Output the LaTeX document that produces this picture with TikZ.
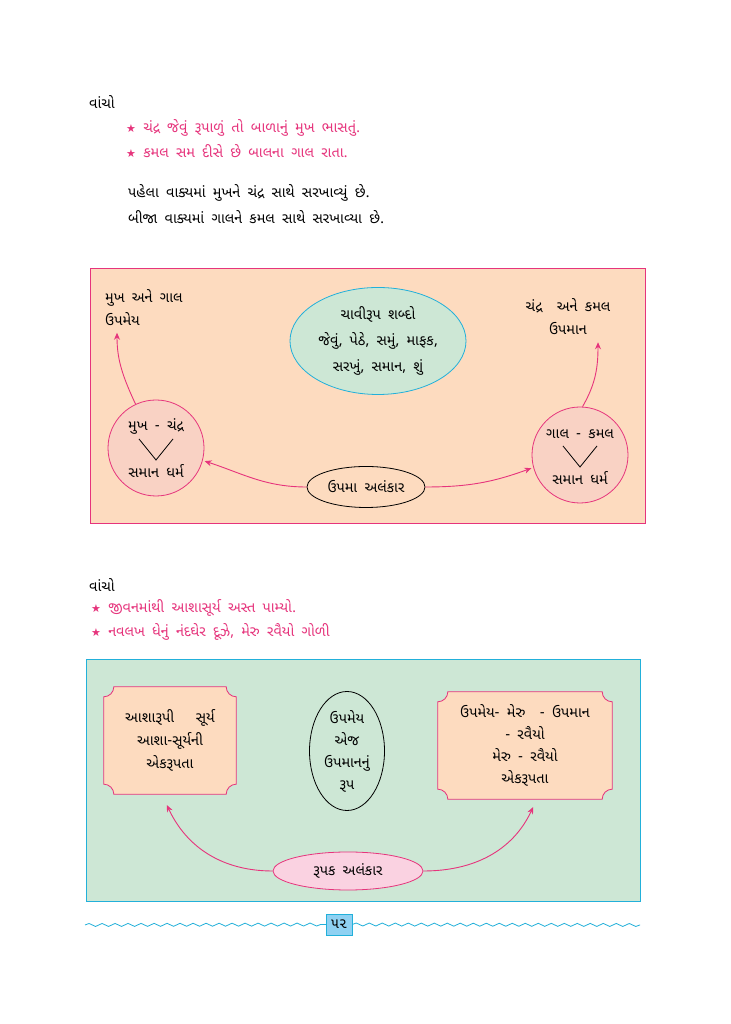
\documentclass[tikz,border=0pt]{standalone}
\usepackage{fontspec}
\newfontfamily\guj[Script=Gujarati]{Noto Sans Gujarati UI}
\newfontfamily\symfont{DejaVu Sans}
\usetikzlibrary{shapes.geometric,backgrounds,decorations.pathmorphing,arrows.meta}
\definecolor{pinkln}{HTML}{E6347C}
\definecolor{cyanln}{HTML}{22B0DA}
\definecolor{peach}{HTML}{FDDBBF}
\definecolor{greenbg}{HTML}{CDE7D5}
\definecolor{circfill}{HTML}{F9D2C4}
\definecolor{rupakfill}{HTML}{FAD2E1}
\definecolor{pgfill}{HTML}{8FD1F2}
\newcommand\pinkstar{{\symfont\fontsize{11}{11}\selectfont ★}}
\newcommand\gujsize[1]{\guj\fontsize{14.5}{#1}\selectfont\spaceskip=0.5em\relax}

\begin{document}
\begin{tikzpicture}[x=1pt, y=1pt, font=\gujsize{23},
    txt/.style={inner sep=1pt},
    pinktxt/.style={txt, text=pinkln, anchor=west},
    circ/.style={circle, draw=pinkln, fill=circfill, line width=0.8pt, minimum size=96pt, inner sep=0pt},
    oval/.style={ellipse, line width=0.8pt, inner sep=0pt, align=center},
    arr/.style={draw=pinkln, line width=0.9pt, ->, >={Stealth[length=7pt, width=6pt]}, shorten >=2pt},
    scoopbox/.style={inner sep=0pt, align=center},
    scoopline/.style={draw=pinkln, fill=peach, line width=0.8pt}]

    % top text
    \node[txt, anchor=west] (vancho1) at (88,922) {વાંચો};
    \node[pinktxt] (line1) at (125,896) {\pinkstar\ ચંદ્ર જેવું રૂપાળું તો બાળાનું મુખ ભાસતું.};
    \node[pinktxt] (line2) at (125,873) {\pinkstar\ કમલ સમ દીસે છે બાલના ગાલ રાતા.};
    \node[txt, anchor=west] (para1) at (127,831) {પહેલા વાક્યમાં મુખને ચંદ્ર સાથે સરખાવ્યું છે.};
    \node[txt, anchor=west] (para2) at (127,807) {બીજા વાક્યમાં ગાલને કમલ સાથે સરખાવ્યા છે.};

    % upama panel
    \node[txt, anchor=west, align=left] (upameya) at (104,716.5) {મુખ અને ગાલ\\ઉપમેય};
    \node[txt, align=center] (upaman) at (568,707) {ચંદ્ર \ અને કમલ\\ઉપમાન};
    \node[oval, draw=cyanln, fill=greenbg, minimum width=176pt, minimum height=107pt,
          font=\gujsize{26}] (keys) at (378,683)
          {ચાવીરૂપ શબ્દો\\જેવું, પેઠે, સમું, માફક,\\સરખું, સમાન, શું};
    \node[circ] (lc) at (156,576) {};
    \node[circ] (rc) at (580,569) {};
    \foreach \c/\a in {lc/મુખ - ચંદ્ર, rc/ગાલ - કમલ} {
        \node[txt] (\c top) at ([yshift=21pt]\c.center) {\a};
        \node[txt] (\c bot) at ([yshift=-23pt]\c.center) {સમાન ધર્મ};
        \draw[line width=0.8pt] ([shift={(-17,9)}]\c.center) -- ([shift={(0,-12)}]\c.center) -- ([shift={(17,9)}]\c.center);
    }
    \node[oval, draw=black, minimum width=118pt, minimum height=41pt] (upama) at (366,537) {ઉપમા અલંકાર};

    \draw[arr] (upama.west) to[out=180, in=-18] (lc.-15);
    \draw[arr] (upama.east) to[out=0, in=200] (rc.195);
    \draw[arr] (lc.115) to[out=115, in=-90] ([xshift=13pt, yshift=-4pt]upameya.south west);
    \draw[arr] (rc.87) to[out=60, in=-90] ([xshift=30pt, yshift=-4pt]upaman.south);

    % second reading
    \node[txt, anchor=west] (vancho2) at (88,439) {વાંચો};
    \node[pinktxt] (line3) at (90,416) {\pinkstar\ જીવનમાંથી આશાસૂર્ય અસ્ત પામ્યો.};
    \node[pinktxt] (line4) at (90,392) {\pinkstar\ નવલખ ધેનું નંદઘેર દૂઝે, મેરુ રવૈયો ગોળી};

    % rupak panel
    \node[scoopbox, minimum width=132pt, minimum height=107pt] (lbox) at (170,283.5)
          {આશારૂપી \quad સૂર્ય\\આશા-સૂર્યની\\એકરૂપતા};
    \node[scoopbox, minimum width=174pt, minimum height=107pt, font=\gujsize{22}] (rbox) at (525,278.5)
          {ઉપમેય- મેરુ \ - ઉપમાન\\- રવૈયો\\મેરુ - રવૈયો\\એકરૂપતા};
    \node[oval, draw=black, minimum width=75pt, minimum height=119pt,
          font=\gujsize{22}] (same) at (347,273) {ઉપમેય\\એજ\\ઉપમાનનું\\રૂપ};
    \node[oval, draw=pinkln, fill=rupakfill, minimum width=150pt, minimum height=38pt] (rupak) at (348,153) {રૂપક અલંકાર};

    \draw[arr] (rupak.west) to[out=180, in=-65] ([xshift=-4pt, yshift=-9pt]lbox.south);
    \draw[arr] (rupak.east) to[out=0, in=-115] ([xshift=9pt, yshift=-6pt]rbox.south);

    % page number
    \node[draw=cyanln, fill=pgfill, minimum width=26pt, minimum height=21pt, inner sep=0pt] (pgno) at (339,99.5) {૫૨};
    \coordinate (wl) at (85,99);
    \coordinate (wr) at (640,99);
    \draw[cyanln, line width=0.8pt, decorate, decoration={snake, segment length=13pt, amplitude=1.5pt}] (wl) -- (pgno.west);
    \draw[cyanln, line width=0.8pt, decorate, decoration={snake, segment length=13pt, amplitude=1.5pt}] (pgno.east) -- (wr);

    \begin{scope}[on background layer]
        \fill[white] (0,0) rectangle (730,1024);
        \draw[pinkln, fill=peach, line width=0.8pt] (90,501) rectangle (645,756);
        \draw[cyanln, fill=greenbg, line width=0.8pt] (86,123) rectangle (640,365);
        \foreach \b in {lbox,rbox} {
            \draw[scoopline] ([xshift=10pt]\b.north west) -- ([xshift=-10pt]\b.north east)
                arc[start angle=180, end angle=270, radius=10pt] -- ([yshift=10pt]\b.south east)
                arc[start angle=90, end angle=180, radius=10pt] -- ([xshift=10pt]\b.south west)
                arc[start angle=0, end angle=90, radius=10pt] -- ([yshift=-10pt]\b.north west)
                arc[start angle=270, end angle=360, radius=10pt] -- cycle;
        }
    \end{scope}
    \useasboundingbox (0,0) rectangle (730,1024);
\end{tikzpicture}
\end{document}
